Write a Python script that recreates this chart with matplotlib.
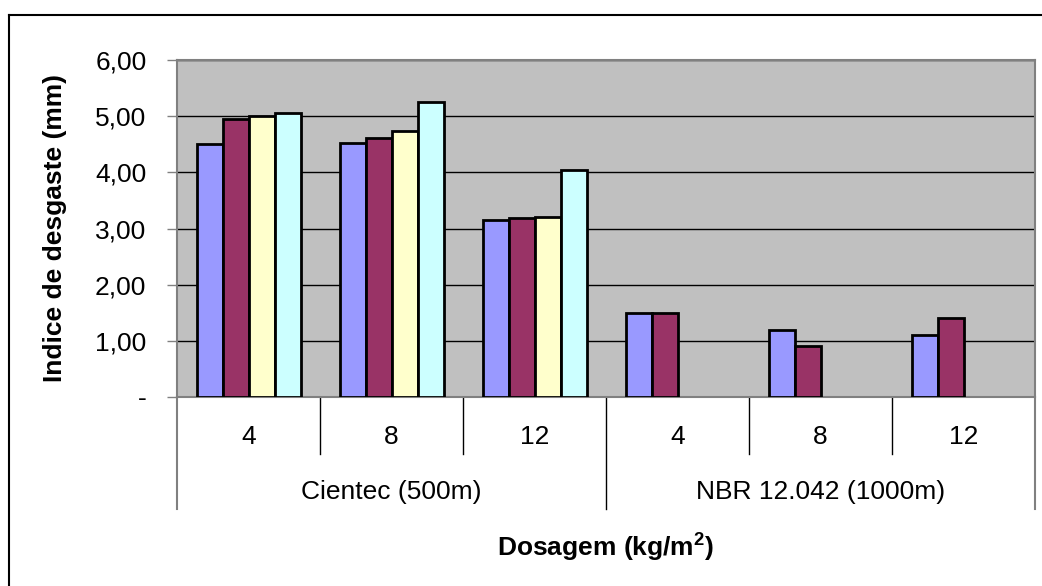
import numpy as np
import matplotlib.pyplot as plt
from matplotlib.lines import Line2D
import matplotlib.transforms as mtransforms

plt.rcParams['font.family'] = ['Liberation Sans', 'DejaVu Sans']
plt.rcParams['mathtext.fontset'] = 'custom'
plt.rcParams['mathtext.rm'] = 'Liberation Sans'
plt.rcParams['mathtext.bf'] = 'Liberation Sans:bold'

# dados
dosagens = ['4', '8', '12', '4', '8', '12']
grupos = ['Cientec (500m)', 'NBR 12.042 (1000m)']
serie1 = [4.50, 4.53, 3.15, 1.50, 1.20, 1.11]
serie2 = [4.95, 4.61, 3.18, 1.50, 0.90, 1.40]
serie3 = [5.00, 4.74, 3.20, np.nan, np.nan, np.nan]
serie4 = [5.06, 5.26, 4.05, np.nan, np.nan, np.nan]
cores = ['#9999FF', '#993366', '#FFFFCC', '#CCFFFF']

fs = 19
fig = plt.figure(figsize=(10.42, 5.86), dpi=100)
W, H = 1042, 586
ax = fig.add_axes([177 / W, 1 - 397 / H, (1035 - 177) / W, (397 - 60) / H])
ax.set_facecolor('#C0C0C0')

x = np.arange(len(dosagens))
w = 1 / 5.5
for i, (s, c) in enumerate(zip([serie1, serie2, serie3, serie4], cores)):
    ax.bar(x + (i - 1.5) * w, s, w, color=c, edgecolor='black', linewidth=2.0, zorder=3)

ax.set_xlim(-0.5, len(dosagens) - 0.5)
ax.set_ylim(0, 6)
ax.set_yticks(np.arange(0, 7, 1))
ax.set_yticklabels(['-'] + [f'{v:.2f}'.replace('.', ',') for v in range(1, 7)], fontsize=fs)
ax.tick_params(axis='y', direction='out', length=7, width=1, color='#808080', pad=15)
ax.set_xticks([])
ax.grid(axis='y', color='black', linewidth=1, zorder=1)
for sp in ax.spines.values():
    sp.set_color('#808080')
    sp.set_linewidth(1.5)

ax.set_ylabel('Indice de desgaste (mm)', fontsize=fs, fontweight='bold')
ax.yaxis.set_label_coords(-0.128, 0.5)

# eixo de categorias em dois niveis
trans = mtransforms.blended_transform_factory(ax.transData, ax.transAxes)
for xi, lab in zip(x, dosagens):
    ax.text(xi, -0.119, lab, transform=trans, ha='center', va='center', fontsize=fs)
for b in x[:-1] + 0.5:
    ybot = -0.332 if b == 2.5 else -0.169
    ax.plot([b, b], [0, ybot], transform=trans, color='black', lw=1.0, clip_on=False)
for b in [-0.5, 5.5]:
    ax.plot([b, b], [0, -0.332], transform=trans, color='#808080', lw=1.5, clip_on=False)
n = len(dosagens) // len(grupos)
for g, lab in enumerate(grupos):
    ax.text(g * n + (n - 1) / 2, -0.282, lab, transform=trans, ha='center', va='center', fontsize=fs)

ax.text(0.5, -0.445, r'Dosagem (kg/m$^\mathbf{2}$)', transform=ax.transAxes,
        ha='center', va='center', fontsize=fs, fontweight='bold')

# borda externa do grafico
fig.add_artist(Line2D([9 / W, 9 / W], [0, 1 - 15 / H], color='black', lw=1.5))
fig.add_artist(Line2D([9 / W, 1], [1 - 15 / H, 1 - 15 / H], color='black', lw=1.5))

fig.savefig('out.png', dpi=100, facecolor='white')
